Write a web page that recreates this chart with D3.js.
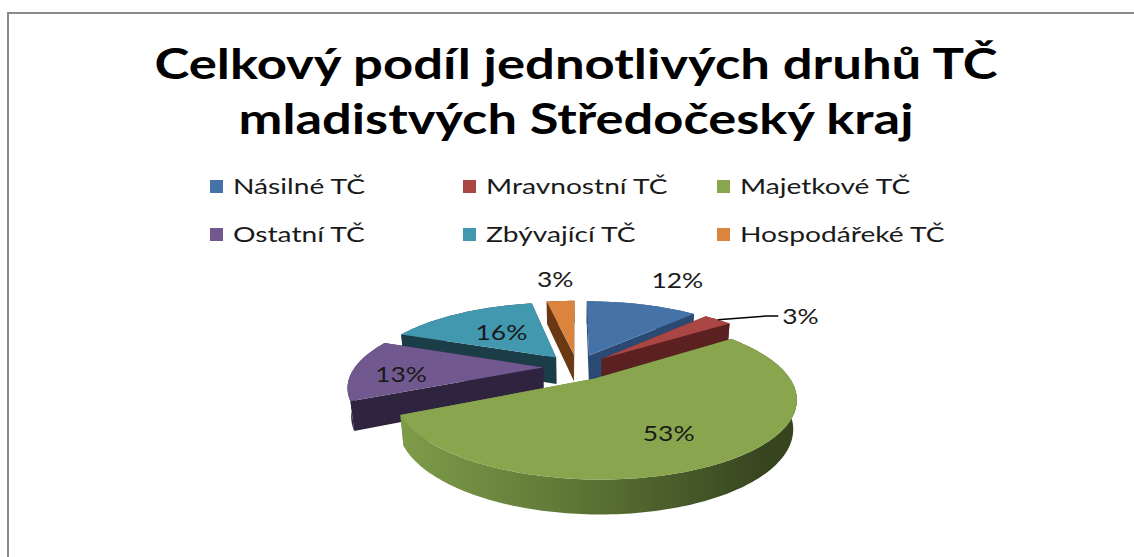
<!DOCTYPE html>
<html lang="cs">
<head>
<meta charset="UTF-8">
<title>Celkový podíl jednotlivých druhů TČ</title>
<script src="https://d3js.org/d3.v7.min.js"></script>
<style>
    body { margin: 0; background: white; }
    svg { display: block; }
    text { font-family: Lato, "Open Sans", sans-serif; }
</style>
</head>
<body>
<svg width="1134" height="557"></svg>
<script>
const titleLines = ["Celkový podíl jednotlivých druhů TČ", "mladistvých Středočeský kraj"];
const categories = ["Násilné TČ", "Mravnostní TČ", "Majetkové TČ", "Ostatní TČ", "Zbývající TČ", "Hospodářeké TČ"];
const values = [12, 3, 53, 13, 16, 3];
const labels = ["12%", "3%", "53%", "13%", "16%", "3%"];
const topColors = ["#4572A7", "#AA4643", "#89A54E", "#71588F", "#4198AF", "#DB843D"];
const sideColors = ["#2B4A73", "#5A2120", "url(#greenSide)", "#2F2440", "#1B3D48", "#6A3812"];

const svg = d3.select("svg");

// widen text a little, the original font runs wider than Lato
function stretch(sel, k) {
    sel.each(function () {
        const w = this.getComputedTextLength();
        d3.select(this).attr("textLength", w * k).attr("lengthAdjust", "spacingAndGlyphs");
    });
}

// frame
svg.append("rect").attr("x", 8).attr("y", 13).attr("width", 1200).attr("height", 600)
    .attr("fill", "none").attr("stroke", "#8a8a8a").attr("stroke-width", 2);

// title
svg.selectAll(".title").data(titleLines).join("text")
    .attr("class", "title")
    .attr("x", 576).attr("y", (d, i) => 79 + i * 55)
    .attr("text-anchor", "middle")
    .attr("font-size", 42).attr("font-weight", "bold").attr("fill", "#000")
    .attr("textLength", (d, i) => i === 0 ? 843 : 675)
    .attr("lengthAdjust", "spacingAndGlyphs")
    .text(d => d);

// legend
const legCol = d3.scaleOrdinal().domain([0, 1, 2]).range([210, 463, 717]);
const legRow = d3.scaleOrdinal().domain([0, 1]).range([180, 228]);
const legend = svg.selectAll(".leg").data(categories).join("g")
    .attr("class", "leg")
    .attr("transform", (d, i) => `translate(${legCol(i % 3)},${legRow(Math.floor(i / 3))})`);
legend.append("rect").attr("width", 13).attr("height", 13).attr("fill", (d, i) => topColors[i]);
legend.append("text").attr("x", 23).attr("y", 14).attr("font-size", 22).attr("fill", "#1a1a1a").text(d => d)
    .call(stretch, 1.28);

// 3D pie projection
const cx = 577, cy = 367, S = 188, D = 4, sinA = 0.38, cosA = Math.sqrt(1 - sinA * sinA);
const thick = 0.16, explode = 0.18;
const xs = d3.scaleLinear().domain([-1, 1]).range([cx - S, cx + S]);
const ys = d3.scaleLinear().domain([-1, 1]).range([cy + S, cy - S]);

function proj(X, Z, H) {
    const yv = H * cosA - Z * sinA;
    const zv = Z * cosA + H * sinA;
    const s = D / (D - zv);
    return [xs(X * s), ys(yv * s)];
}

const slices = d3.pie().sort(null).value(d => d)(values);
slices.forEach((p, i) => {
    p.i = i;
    p.mid = (p.startAngle + p.endAngle) / 2;
    p.ox = explode * Math.sin(p.mid);
    p.oz = -explode * Math.cos(p.mid);
    p.depth = -Math.cos(p.mid);
});

function pt(p, a, r, H) {
    return proj(p.ox + r * Math.sin(a), p.oz - r * Math.cos(a), H);
}
function arcPts(p, H) {
    const n = Math.max(4, Math.ceil((p.endAngle - p.startAngle) / 0.02));
    return d3.range(n + 1).map(k => pt(p, p.startAngle + (p.endAngle - p.startAngle) * k / n, 1, H));
}
function radialWall(p, a) {
    return [pt(p, a, 0, 0), pt(p, a, 1, 0), pt(p, a, 1, -thick), pt(p, a, 0, -thick)];
}
const poly = d3.line().curve(d3.curveLinearClosed);

const defs = svg.append("defs");
const grad = defs.append("linearGradient").attr("id", "greenSide")
    .attr("gradientUnits", "userSpaceOnUse")
    .attr("x1", cx - S).attr("x2", cx + S).attr("y1", 0).attr("y2", 0);
grad.append("stop").attr("offset", "0%").attr("stop-color", "#819E4B");
grad.append("stop").attr("offset", "45%").attr("stop-color", "#617A38");
grad.append("stop").attr("offset", "100%").attr("stop-color", "#37451F");

const pieG = svg.append("g");
slices.slice().sort((a, b) => a.depth - b.depth).forEach(p => {
    const g = pieG.append("g");
    const startFront = Math.sin(p.startAngle) < 0;
    const endFront = Math.sin(p.endAngle) > 0;
    const walls = [];
    if (!startFront) walls.push(radialWall(p, p.startAngle));
    if (!endFront) walls.push(radialWall(p, p.endAngle));
    walls.forEach(w => g.append("path").attr("d", poly(w)).attr("fill", sideColors[p.i]));
    const top = arcPts(p, 0), bot = arcPts(p, -thick).reverse();
    g.append("path").attr("d", poly(top.concat(bot))).attr("fill", sideColors[p.i]);
    if (startFront) g.append("path").attr("d", poly(radialWall(p, p.startAngle))).attr("fill", sideColors[p.i]);
    if (endFront) g.append("path").attr("d", poly(radialWall(p, p.endAngle))).attr("fill", sideColors[p.i]);
    g.append("path").attr("d", poly([pt(p, 0, 0, 0)].concat(top))).attr("fill", topColors[p.i]);
});

// data labels: radius and small angle turn along each slice
const labelR = [1.67, 1.0, 0.68, 0.74, 0.53, 1.53];
const labelTurn = [0.04, 0, 0.06, -0.1, 0, 0];
const leader = { i: 1, r: 1.3, turn: 0.12, len: 12 };
const labelG = svg.append("g");
slices.forEach(p => {
    if (p.i === leader.i) {
        const a = pt(p, p.mid, 1, 0);
        const b = pt(p, p.mid + leader.turn, leader.r, 0);
        const c = [b[0] + leader.len, b[1]];
        labelG.append("path").attr("d", d3.line()([a, b, c])).attr("fill", "none")
            .attr("stroke", "#000").attr("stroke-width", 1.5);
        labelG.append("text").attr("x", c[0] + 4).attr("y", c[1]).attr("dy", "0.35em")
            .attr("font-size", 22).attr("fill", "#1a1a1a").text(labels[p.i]);
    } else {
        const q = pt(p, p.mid + labelTurn[p.i], labelR[p.i], 0);
        labelG.append("text").attr("x", q[0]).attr("y", q[1]).attr("dy", "0.35em")
            .attr("text-anchor", "middle").attr("font-size", 22).attr("fill", "#1a1a1a")
            .text(labels[p.i]);
    }
});
labelG.selectAll("text").call(stretch, 1.2);
</script>
</body>
</html>
